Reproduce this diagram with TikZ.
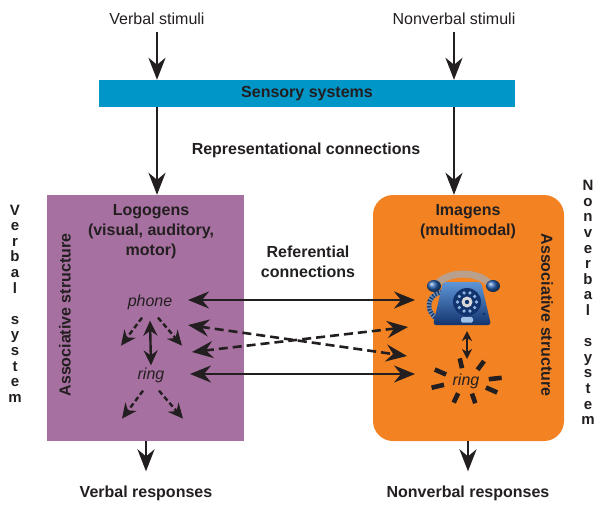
\documentclass[tikz,border=0pt]{standalone}
\usepackage{fontspec}
\setmainfont{Liberation Sans}
\usetikzlibrary{arrows.meta}
\definecolor{ink}{RGB}{35,31,32}
\definecolor{sensblue}{RGB}{0,150,200}
\definecolor{logoviolet}{RGB}{166,112,160}
\definecolor{imagorange}{RGB}{242,130,34}
\definecolor{telblue}{RGB}{38,96,176}
\definecolor{teldark}{RGB}{18,52,110}
\definecolor{tellight}{RGB}{95,150,215}
\definecolor{handtan}{RGB}{185,160,140}
\definecolor{cordgrey}{RGB}{110,140,170}
\begin{document}
\begin{tikzpicture}[x=1pt,y=-1pt,
  lbl/.style={font=\fontsize{16}{20}\selectfont\bfseries, text=ink, align=center, inner sep=2pt},
  stim/.style={font=\fontsize{16}{20}\selectfont, text=ink, inner sep=2pt},
  word/.style={font=\fontsize{16}{20}\selectfont\itshape, text=ink, inner sep=2pt},
  vert/.style={font=\fontsize{15}{15.6}\selectfont\bfseries, text=ink, align=center, inner sep=0pt},
  flow/.style={ink, line width=2.8pt, >={Stealth[length=22pt,width=17pt,inset=7pt]}},
  link/.style={ink, line width=2.6pt, >={Stealth[length=21pt,width=17pt,inset=7pt]}},
  assoc/.style={ink, line width=2.4pt, >={Stealth[length=15pt,width=14pt,inset=5pt]}},
  biglink/.style={link, dash pattern=on 9pt off 5pt},
  smalldash/.style={dash pattern=on 5pt off 3pt},
  ]
  \useasboundingbox (0,0) rectangle (596,504);
  % 刺激与感觉系统
  \node[stim] (vstim) at (157,19) {Verbal stimuli};
  \node[stim] (nvstim) at (454,19) {Nonverbal stimuli};
  \node[lbl, fill=sensblue, minimum width=416pt, minimum height=27pt] (sens) at (307,93.5) {Sensory systems};
  \node[lbl] (repr) at (306,150) {Representational connections};
  % 两个系统的方框
  \node[fill=logoviolet, minimum width=197pt, minimum height=246pt, inner sep=0pt] (logo) at (145.5,318) {};
  \node[fill=imagorange, rounded corners=20pt, minimum width=191pt, minimum height=246pt, inner sep=0pt] (imag) at (468.5,318) {};
  \node[lbl] (logohead) at (151,232) {Logogens\\(visual, auditory,\\motor)};
  \node[lbl] (imaghead) at (468,221.5) {Imagens\\(multimodal)};
  \node[lbl] (refer) at (308,262) {Referential\\connections};
  \node[lbl, rotate=90] (assocL) at (65,315) {Associative structure};
  \node[lbl, rotate=-90] (assocR) at (547,315) {Associative structure};
  % 两侧竖排的系统名
  \node[vert] (vsys) at (15,303.5) {V\\e\\r\\b\\a\\l\\[15.6pt]s\\y\\s\\t\\e\\m};
  \node[vert] (nvsys) at (588,302.5) {N\\o\\n\\v\\e\\r\\b\\a\\l\\[15.6pt]s\\y\\s\\t\\e\\m};
  % 词与反应
  \node[word] (wphone) at (150,302) {phone};
  \node[word] (wring) at (151,375) {ring};
  \node[word] (iring) at (466,381) {ring};
  \node[lbl] (vresp) at (146,493) {Verbal responses};
  \node[lbl] (nvresp) at (468,493) {Nonverbal responses};
  % 竖直箭头
  \draw[flow,->,shorten <=5pt] (vstim) -- (vstim |- sens.north);
  \draw[flow,->,shorten <=5pt] (nvstim) -- (nvstim |- sens.north);
  \draw[flow,->] (vstim |- sens.south) -- (vstim |- logo.north);
  \draw[flow,->] (nvstim |- sens.south) -- (nvstim |- imag.north);
  \draw[flow,->,shorten >=12pt] (vresp |- logo.south) -- (vresp);
  \draw[flow,->,shorten >=12pt] (nvresp |- imag.south) -- (nvresp);
  % 电话图标
  \begin{scope}[shift={(462,298)}]
    \draw[line width=4.5pt, cordgrey] (-20,-6) .. controls (-38,-2) and (-36,16) .. (-22,23);
    \draw[line width=4.5pt, teldark, dash pattern=on 1.2pt off 1.8pt] (-20,-6) .. controls (-38,-2) and (-36,16) .. (-22,23);
    \shade[top color=tellight, bottom color=teldark, rounded corners=3pt]
      (-19,-16) -- (19,-16) -- (29,27) -- (-29,27) -- cycle;
    \draw[line width=7pt, handtan] (-27,-12) .. controls (-15,-28) and (17,-28) .. (30,-12);
    \shade[ball color=telblue] (-28,-12) ellipse (7 and 6);
    \shade[ball color=telblue] (31,-12) ellipse (7 and 6);
    \fill[teldark] (5,4) circle (14);
    \foreach \a in {0,36,...,324}
      \fill[tellight!70!white] (5,4) ++(\a:9.5) circle (1.8);
    \fill[gray!30] (5,4) circle (5.5);
    \fill[teldark] (5,4) circle (2.2);
    \fill[teldark] (22,16) circle (1.6);
    \fill[tellight!60!white, rounded corners=1.5pt] (-1,19) rectangle (11,24.5);
  \end{scope}
  % 响铃的放射短线
  \foreach \t in {163,110,75,30,-8,-150,-100,-60}
    \draw[ink, line width=4.6pt] (iring) ++(\t:23 and 13) -- ++(\t:13 and 10);
  % 联想结构内部的箭头
  \draw[assoc,<->] (wphone.south) ++(0,9) -- (wring.north);
  \foreach \w in {wphone,wring} {
    \draw[assoc,smalldash,->] (\w.south) ++(-8,6) -- ++(-21,28);
    \draw[assoc,smalldash,->] (\w.south) ++(8,6) -- ++(24,28);
  }
  \coordinate (telbase) at (467,331);
  \coordinate (ringtop) at (467,359);
  \draw[ink, line width=1.8pt, <->, >={Stealth[length=10pt,width=10pt,inset=3pt]}] (telbase) -- (ringtop);
  % 指称联系：横向双箭头
  \coordinate (lp) at (188,300);
  \coordinate (rp) at (415,300);
  \coordinate (lr) at (190,374);
  \coordinate (rr) at (415,374);
  \coordinate (la) at (188,325);
  \coordinate (ra) at (407,356);
  \coordinate (lb) at (192,352);
  \coordinate (rb) at (408,327);
  \draw[link,<->] (lp) -- (rp);
  \draw[link,<->] (lr) -- (rr);
  \draw[biglink,<->] (la) -- (ra);
  \draw[biglink,<->] (lb) -- (rb);
\end{tikzpicture}
\end{document}
